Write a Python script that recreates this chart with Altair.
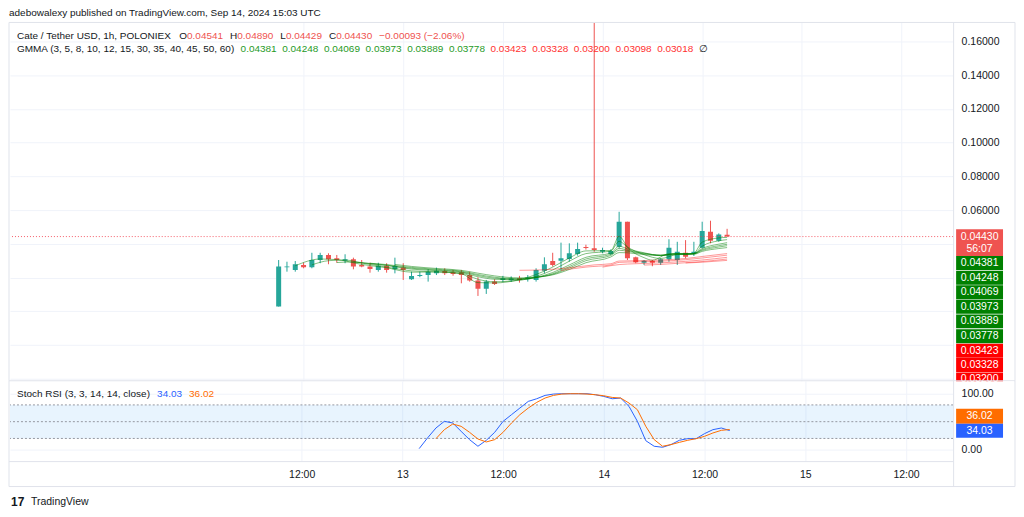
import altair as alt
import pandas as pd

# ---------------- data ----------------
start = pd.Timestamp("2024-09-12 09:00", tz="UTC")
bar_times = [(start + pd.Timedelta(hours=i)).strftime("%Y-%m-%dT%H:%M:%SZ") for i in range(55)]

opens = [0.0028, 0.0261, 0.0245, 0.0275, 0.0261, 0.0304, 0.0334, 0.0314, 0.0300, 0.0308,
         0.0275, 0.0265, 0.0245, 0.0270, 0.0249, 0.0259, 0.0190, 0.0210, 0.0215, 0.0225,
         0.0239, 0.0231, 0.0231, 0.0215, 0.0182, 0.0133, 0.0176, 0.0186, 0.0184, 0.0196,
         0.0190, 0.0186, 0.0241, 0.0298, 0.0300, 0.0310, 0.0340, 0.0381, 0.0374, 0.0353,
         0.0340, 0.0383, 0.0531, 0.0320, 0.0288, 0.0298, 0.0288, 0.0308, 0.0304, 0.0347,
         0.0344, 0.0377, 0.0472, 0.0418, 0.04541]
highs = [0.0304, 0.0294, 0.0298, 0.0288, 0.0347, 0.0347, 0.0344, 0.0334, 0.0338, 0.0318,
         0.0304, 0.0288, 0.0288, 0.0285, 0.0318, 0.0285, 0.0235, 0.0235, 0.0249, 0.0259,
         0.0255, 0.0245, 0.0245, 0.0235, 0.0202, 0.0186, 0.0190, 0.0210, 0.0207, 0.0210,
         0.0215, 0.0255, 0.0320, 0.0347, 0.0407, 0.0403, 0.0407, 0.0395, 0.1710, 0.0377,
         0.0367, 0.0590, 0.0531, 0.0324, 0.0304, 0.0304, 0.0314, 0.0427, 0.0412, 0.0422,
         0.0412, 0.0531, 0.0537, 0.0462, 0.04890]
lows = [0.0028, 0.0235, 0.0235, 0.0255, 0.0255, 0.0285, 0.0279, 0.0288, 0.0285, 0.0249,
        0.0261, 0.0229, 0.0235, 0.0229, 0.0225, 0.0186, 0.0186, 0.0202, 0.0176, 0.0215,
        0.0215, 0.0211, 0.0166, 0.0176, 0.0091, 0.0103, 0.0156, 0.0174, 0.0174, 0.0170,
        0.0176, 0.0176, 0.0225, 0.0265, 0.0245, 0.0294, 0.0330, 0.0366, 0.0353, 0.0344,
        0.0334, 0.0373, 0.0304, 0.0285, 0.0275, 0.0267, 0.0275, 0.0294, 0.0275, 0.0314,
        0.0328, 0.0373, 0.0403, 0.0412, 0.04429]
closes = [0.0265, 0.0266, 0.0279, 0.0261, 0.0304, 0.0334, 0.0308, 0.0304, 0.0308, 0.0265,
          0.0265, 0.0251, 0.0270, 0.0245, 0.0268, 0.0245, 0.0210, 0.0215, 0.0235, 0.0241,
          0.0225, 0.0221, 0.0215, 0.0182, 0.0133, 0.0176, 0.0162, 0.0196, 0.0194, 0.0186,
          0.0200, 0.0245, 0.0279, 0.0275, 0.0314, 0.0344, 0.0369, 0.0376, 0.0363, 0.0363,
          0.0357, 0.0531, 0.0314, 0.0291, 0.0300, 0.0288, 0.0308, 0.0377, 0.0353, 0.0324,
          0.0353, 0.0476, 0.0418, 0.0456, 0.04430]

# GMMA lines: (bar number, value)
ema3 = [(3, 0.0270), (6, 0.0310), (8, 0.0306), (11, 0.0278), (14, 0.0258), (17, 0.0232), (20, 0.0233),
        (23, 0.0222), (25, 0.0170), (27, 0.0168), (30, 0.0188), (32, 0.0218), (34, 0.0262), (36, 0.0316),
        (38, 0.0358), (41, 0.0360), (42, 0.0445), (43, 0.0380), (45, 0.0318), (46, 0.0303), (48, 0.0341),
        (50, 0.0336), (51, 0.0344), (52, 0.0410), (54, 0.0435), (55, 0.04381)]
ema5 = [(5, 0.0275), (7, 0.0300), (9, 0.0304), (11, 0.0286), (14, 0.0262), (17, 0.0240), (20, 0.0234),
        (23, 0.0225), (25, 0.0190), (27, 0.0175), (30, 0.0184), (32, 0.0207), (34, 0.0245), (36, 0.0297),
        (38, 0.0342), (41, 0.0357), (42, 0.0415), (43, 0.0381), (45, 0.0336), (47, 0.0313), (49, 0.0337),
        (51, 0.0341), (52, 0.0386), (54, 0.0418), (55, 0.04248)]
ema8 = [(8, 0.0289), (10, 0.0293), (12, 0.0282), (14, 0.0271), (17, 0.0250), (20, 0.0241), (23, 0.0230),
        (25, 0.0205), (27, 0.0190), (30, 0.0187), (32, 0.0201), (34, 0.0230), (36, 0.0275), (38, 0.0320),
        (41, 0.0345), (42, 0.0386), (43, 0.0370), (45, 0.0347), (47, 0.0330), (49, 0.0343), (51, 0.0342),
        (52, 0.0372), (54, 0.0398), (55, 0.04069)]
ema10 = [(10, 0.0291), (12, 0.0284), (14, 0.0274), (17, 0.0255), (20, 0.0245), (23, 0.0234), (25, 0.0212),
         (27, 0.0196), (30, 0.0190), (32, 0.0200), (34, 0.0223), (36, 0.0265), (38, 0.0310), (41, 0.0338),
         (42, 0.0373), (43, 0.0362), (45, 0.0344), (47, 0.0333), (49, 0.0342), (51, 0.0342), (52, 0.0366),
         (54, 0.0389), (55, 0.03973)]
ema12 = [(12, 0.0285), (14, 0.0277), (17, 0.0260), (20, 0.0249), (23, 0.0238), (25, 0.0218), (27, 0.0202),
         (30, 0.0193), (32, 0.0200), (34, 0.0219), (36, 0.0257), (38, 0.0300), (41, 0.0331), (42, 0.0362),
         (43, 0.0356), (45, 0.0341), (47, 0.0333), (49, 0.0341), (51, 0.0341), (52, 0.0361), (54, 0.0381),
         (55, 0.03889)]
ema15 = [(15, 0.0278), (17, 0.0266), (20, 0.0254), (23, 0.0243), (25, 0.0226), (27, 0.0210), (30, 0.0198),
         (32, 0.0203), (34, 0.0216), (36, 0.0248), (38, 0.0288), (41, 0.0322), (42, 0.0348), (43, 0.0347),
         (45, 0.0336), (47, 0.0330), (49, 0.0337), (51, 0.0338), (52, 0.0355), (54, 0.0372), (55, 0.03778)]
ema30 = [(30, 0.0243), (33, 0.0246), (36, 0.0258), (39, 0.0275), (41, 0.0282), (42, 0.0298), (44, 0.0300),
         (47, 0.0304), (50, 0.0313), (52, 0.0325), (55, 0.03423)]
ema35 = [(35, 0.0242), (38, 0.0262), (41, 0.0275), (42, 0.0290), (44, 0.0293), (47, 0.0297), (50, 0.0306),
         (52, 0.0316), (55, 0.03328)]
ema40 = [(40, 0.0262), (42, 0.0277), (44, 0.0282), (47, 0.0287), (50, 0.0296), (52, 0.0304), (55, 0.03200)]
ema45 = [(45, 0.0274), (47, 0.0278), (50, 0.0288), (52, 0.0295), (55, 0.03098)]
ema50 = [(50, 0.0286), (52, 0.0291), (55, 0.03018)]

stoch_k_start = 18
stoch_k = [1.8, 21, 38.7, 50.6, 47.6, 32.7, 17.9, 6, 16.7, 31, 50.6, 62.5, 74.4, 86.3, 91, 97, 99.4,
           100, 100, 100, 100, 98.2, 95.2, 91, 92.3, 77.4, 50.6, 16, 6, 4.2, 9, 16.7, 19.6, 19.6,
           28.6, 35.7, 38.7, 34.03]
stoch_d_start = 20
stoch_d = [19.6, 35.7, 45.8, 41.7, 31, 19, 13.7, 17.9, 31, 47.6, 62.5, 74.4, 84.5, 92.3, 97, 99.4,
           100, 100, 99.4, 98.2, 96.4, 93.4, 92.3, 83.3, 71.4, 41.7, 17.9, 6, 9, 13, 16.7, 19.6,
           23.8, 29.8, 34.5, 36.02]

gmma_labels = ["0.04381", "0.04248", "0.04069", "0.03973", "0.03889", "0.03778",
               "0.03423", "0.03328", "0.03200", "0.03098", "0.03018"]

# ---------------- style / layout ----------------
W, H_MAIN, H_STOCH = 945, 359, 81
UP, DOWN = "#26a69a", "#ef5350"
GREEN, RED = "#008000", "#ff0000"
FONT = "Liberation Sans"
TXT = "#131722"
GRID = "#f0f3fa"
FRAME = "#e0e3eb"
LEG = 10  # legend font size
dummy = alt.Data(values=[{}])

# approximate Liberation Sans advance widths (per 1000 em) for laying out legend segments
_W = {" ": 278, ",": 278, ".": 278, "/": 278, "(": 333, ")": 333, "%": 889, "\u2212": 584, ":": 278}
_W.update({d: 556 for d in "0123456789"})
_W.update(dict(zip("ABCDEFGHIJKLMNOPQRSTUVWXYZ",
                   [667, 667, 722, 722, 667, 611, 778, 722, 278, 500, 667, 556, 833, 722, 778, 667,
                    778, 722, 667, 611, 722, 667, 944, 667, 667, 611])))
_W.update(dict(zip("abcdefghijklmnopqrstuvwxyz",
                   [556, 556, 500, 556, 556, 278, 556, 556, 222, 222, 500, 222, 833, 556, 556, 556,
                    556, 333, 500, 278, 556, 500, 722, 500, 500, 500])))


def tw(s, size=LEG):
    return sum(_W.get(c, 600) for c in s) * size / 1000.0


xscale = alt.Scale(type="utc", domain=[
    alt.DateTime(year=2024, month=9, date=11, hours=1, minutes=15, utc=True),
    alt.DateTime(year=2024, month=9, date=15, hours=17, minutes=37, utc=True)])
tick_vals = [alt.DateTime(year=2024, month=9, date=d, hours=h, utc=True)
             for d, h in [(12, 12), (13, 0), (13, 12), (14, 0), (14, 12), (15, 0), (15, 12)]]

X_MAIN = alt.X("t:T", scale=xscale, title=None,
               axis=alt.Axis(values=tick_vals, labels=False, ticks=False, domain=False,
                             grid=True, gridColor=GRID))
X_STOCH = alt.X("t:T", scale=xscale, title=None,
                axis=alt.Axis(values=tick_vals, ticks=False, domain=False, grid=True, gridColor=GRID,
                              labelExpr="utchours(datum.value) == 0 ? '' + utcdate(datum.value) : '12:00'",
                              labelFontSize=10.5, labelColor=TXT, labelPadding=8, labelFont=FONT))

ymain = alt.Scale(domain=[-0.04118, 0.17124], nice=False, zero=False)
yaxis_main = alt.Axis(orient="right", values=[-0.04, -0.02, 0, 0.02, 0.04, 0.06, 0.08, 0.10, 0.12, 0.14, 0.16],
                      labelExpr="datum.value >= 0.059 ? format(datum.value, '.5f') : ''",
                      grid=True, gridColor=GRID, domain=False, ticks=False, labelPadding=8,
                      labelFontSize=10.5, labelColor=TXT, labelFont=FONT, title=None)


def YM(field):
    return alt.Y(field, scale=ymain, axis=yaxis_main, title=None)


ystoch = alt.Scale(domain=[-21.43, 123.21], nice=False, zero=False)
yaxis_stoch = alt.Axis(orient="right", values=[0, 100], format=".2f", grid=True, gridColor=GRID,
                       domain=False, ticks=False, labelPadding=8, labelFontSize=10.5, labelColor=TXT,
                       labelFont=FONT, title=None)


def YS(field):
    return alt.Y(field, scale=ystoch, axis=yaxis_stoch, title=None)


def txt(s, x, y, color=TXT, size=LEG, align="left", weight="normal", baseline="middle"):
    return alt.Chart(dummy).mark_text(text=s, align=align, baseline=baseline, fontSize=size,
                                      color=color, font=FONT, fontWeight=weight).encode(
        x=alt.value(x), y=alt.value(y))


def flow(segments, x0, y, gap_after):
    """segments: list of (text, color, gap_after_bool)"""
    out, x = [], x0
    for s, col, g in segments:
        out.append(txt(s, x, y, col))
        x += tw(s) + (gap_after if g else 0)
    return out


def hline(x1, x2, y, color=FRAME):
    return alt.Chart(dummy).mark_rule(color=color, strokeWidth=1).encode(
        x=alt.value(x1), x2=alt.value(x2), y=alt.value(y))


def vline(x, y1, y2, color=FRAME):
    return alt.Chart(dummy).mark_rule(color=color, strokeWidth=1).encode(
        x=alt.value(x), y=alt.value(y1), y2=alt.value(y2))


def box(x1, x2, y1, y2, color):
    return alt.Chart(dummy).mark_rect(color=color).encode(
        x=alt.value(x1), x2=alt.value(x2), y=alt.value(y1), y2=alt.value(y2))


# ---------------- tables ----------------
candles = pd.DataFrame({"t": bar_times, "open": opens, "high": highs, "low": lows, "close": closes})
candles["dir"] = ["up" if c >= o else "down" for o, c in zip(opens, closes)]
dir_color = alt.Color("dir:N", scale=alt.Scale(domain=["up", "down"], range=[UP, DOWN]), legend=None)


def gmma_df(lines):
    rows = []
    for name, pts in lines:
        for b, v in pts:
            rows.append({"name": name, "t": bar_times[b - 1], "value": v})
    return pd.DataFrame(rows)


green_df = gmma_df([("3", ema3), ("5", ema5), ("8", ema8), ("10", ema10), ("12", ema12), ("15", ema15)])
red_df = gmma_df([("30", ema30), ("35", ema35), ("40", ema40), ("45", ema45), ("50", ema50)])

k_df = pd.DataFrame({"t": bar_times[stoch_k_start - 1:], "v": stoch_k})
d_df = pd.DataFrame({"t": bar_times[stoch_d_start - 1:], "v": stoch_d})

# ---------------- main pane ----------------
wicks = alt.Chart(candles).mark_rule(strokeWidth=1, clip=True).encode(
    x=X_MAIN, y=YM("low:Q"), y2="high:Q", color=dir_color)
bodies = alt.Chart(candles).mark_bar(size=5, clip=True).encode(
    x=X_MAIN, y=YM("open:Q"), y2="close:Q", color=dir_color)
green_lines = alt.Chart(green_df).mark_line(strokeWidth=1, opacity=0.5, color=GREEN,
                                             interpolate="monotone", clip=True).encode(
    x=X_MAIN, y=YM("value:Q"), detail="name:N")
red_lines = alt.Chart(red_df).mark_line(strokeWidth=1, opacity=0.4, color=RED,
                                         interpolate="monotone", clip=True).encode(
    x=X_MAIN, y=YM("value:Q"), detail="name:N")
price_line = alt.Chart(pd.DataFrame({"p": [closes[-1]]})).mark_rule(
    color="#f23645", strokeDash=[1, 2], strokeWidth=1, opacity=0.8).encode(y=YM("p:Q"))

main_layers = [wicks, bodies, green_lines, red_lines, price_line]

# legend text
main_layers.append(txt("adebowalexy published on TradingView.com, Sep 14, 2024 15:03 UTC", -1, -14,
                       baseline="top"))
main_layers += flow([("Cate / Tether USD, 1h, POLONIEX", TXT, True),
                     ("O", TXT, False), ("0.04541", DOWN, True),
                     ("H", TXT, False), ("0.04890", DOWN, True),
                     ("L", TXT, False), ("0.04429", DOWN, True),
                     ("C", TXT, False), ("0.04430", DOWN, True),
                     ("\u22120.00093 (\u22122.06%)", DOWN, True)], 7, 14, 7)
gmma_segments = [("GMMA (3, 5, 8, 10, 12, 15, 30, 35, 40, 45, 50, 60)", TXT, True)]
gmma_segments += [(lab, "#1f9a1f" if i < 6 else "#ff3030", True) for i, lab in enumerate(gmma_labels)]
gmma_segments += [("\u2205", TXT, True)]
main_layers += flow(gmma_segments, 7, 27, 5.6)

# right-hand price labels
main_layers += [box(948, 995, 207.3, 234, DOWN),
                txt("0.04430", 971.5, 214.5, "white", size=10.5, align="center"),
                txt("56:07", 971.5, 227, "white", size=10.5, align="center")]
label_centers = [241, 255.7, 270.3, 284.9, 299.5, 314.3, 328.9, 343.3, 357.7]
for i, yc in enumerate(label_centers):
    col = GREEN if i < 6 else RED
    main_layers.append(box(948, 995, yc - 7, yc + 7, col))
    main_layers.append(txt(gmma_labels[i], 971.5, yc, "white", size=10.5, align="center"))

# frame
main_layers += [hline(-1, 1007, 0), vline(-1, 0, H_MAIN), vline(1007, 0, H_MAIN),
                vline(945.5, 0, H_MAIN), hline(-1, 1007, H_MAIN)]

main = alt.layer(*main_layers).properties(width=W, height=H_MAIN)

# ---------------- stoch pane ----------------
band = alt.Chart(pd.DataFrame({"lo": [20], "hi": [80]})).mark_rect(color="#2196f3", opacity=0.1).encode(
    x=alt.value(0), x2=alt.value(W), y=YS("lo:Q"), y2="hi:Q")
levels = alt.Chart(pd.DataFrame({"v": [80, 50, 20]})).mark_rule(
    color="#9598a1", strokeDash=[2, 2], strokeWidth=1).encode(y=YS("v:Q"))
k_line = alt.Chart(k_df).mark_line(color="#2962ff", strokeWidth=1).encode(x=X_STOCH, y=YS("v:Q"))
d_line = alt.Chart(d_df).mark_line(color="#ff6d00", strokeWidth=1).encode(x=X_STOCH, y=YS("v:Q"))

stoch_layers = [band, levels, k_line, d_line, box(946, 1006, 0.5, 7, "white")]
stoch_layers += flow([("Stoch RSI (3, 3, 14, 14, close)", TXT, True),
                      ("34.03", "#2962ff", True), ("36.02", "#ff6d00", True)], 7, 13, 7)
stoch_layers += [box(948, 995, 28, 43, "#ff6d00"),
                 txt("36.02", 971.5, 35.5, "white", size=10.5, align="center"),
                 box(948, 995, 43, 57, "#2962ff"),
                 txt("34.03", 971.5, 50, "white", size=10.5, align="center"),
                 hline(-1, 1007, 106), vline(-1, 0, 106), vline(1007, 0, 106),
                 vline(945.5, 0, 106), hline(-1, 945.5, H_STOCH),
                 txt("17", 1, 121, TXT, size=12, weight="bold"),
                 txt("TradingView", 21, 121, TXT, size=10.5)]

stoch = alt.layer(*stoch_layers).properties(width=W, height=H_STOCH)

chart = alt.vconcat(main, stoch, spacing=0, bounds="flush").properties(padding=0).configure(
    font=FONT).configure_view(stroke=None)

chart.save("out.html", embed_options={"renderer": "svg", "actions": False})
